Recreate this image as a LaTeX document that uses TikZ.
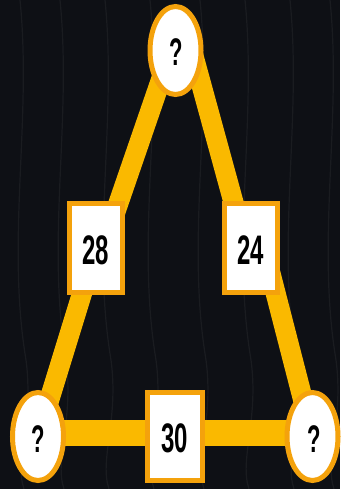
\documentclass[tikz,border=0pt]{standalone}
\usepackage{fontspec}
\setmainfont{Liberation Sans}
\usepackage{graphicx}
\usetikzlibrary{shapes.geometric,backgrounds}
\definecolor{bgdark}{HTML}{0E1015}
\definecolor{legyellow}{HTML}{FAB900}
\definecolor{rimorange}{HTML}{F4A20C}
\newcommand{\tallnum}[1]{\scalebox{1}[1.72]{\fontsize{24}{24}\selectfont\bfseries #1}}
\newcommand{\tallq}{\scalebox{1}[1.75]{\fontsize{22}{22}\selectfont\bfseries ?}}
\begin{document}
\begin{tikzpicture}[x=1pt,y=-1pt,
  leg/.style={draw=legyellow,line width=20pt},
  bar/.style={draw=legyellow,line width=26pt},
  numbox/.style={draw=rimorange,fill=white,line width=5pt,minimum width=53pt,minimum height=89pt,inner sep=0pt,text=black},
  qoval/.style={ellipse,draw=rimorange,fill=white,line width=5pt,minimum width=51pt,minimum height=88pt,inner sep=0pt,text=black}]
\useasboundingbox (0,0) rectangle (340,489);
% nodes
\node[qoval] (top) at (175.5,50.5) {};
\node[qoval] (bl) at (38,436.5) {};
\node[qoval] (br) at (312.5,436.5) {};
\node[numbox] (b28) at (96,248) {};
\node[numbox] (b24) at (250.5,248) {};
\node[numbox,minimum width=55pt,minimum height=88pt] (b30) at (175,436.5) {};
% texts
\node[text=black,inner sep=0pt] (tq) at (176.5,52.5) {\tallq};
\node[text=black,inner sep=0pt] (lq) at (38,439) {\tallq};
\node[text=black,inner sep=0pt] (rq) at (314,439) {\tallq};
\node[text=black,inner sep=0pt] (t28) at (96,250) {\tallnum{28}};
\node[text=black,inner sep=0pt] (t24) at (250.5,250) {\tallnum{24}};
\node[text=black,inner sep=0pt] (t30) at (175,438) {\tallnum{30}};
% background and connectors
\begin{scope}[on background layer]
\fill[bgdark] (0,0) rectangle (340,489);
\begin{scope}[draw=white,opacity=0.05,line width=1.2pt]
\foreach \x in {20,60,105,150,200,245,290,330}{
  \draw (\x,0) .. controls (\x+12,120) and (\x-14,240) .. (\x+6,360) .. controls (\x+14,420) and (\x-6,460) .. (\x+4,489);
}
\end{scope}
\path[leg] ([xshift=-4.5pt]top.center) -- ([xshift=7pt]b28.center);
\path[leg] ([xshift=16.5pt]top.center) -- ([xshift=-4.5pt]b24.center);
\path[leg] (b28.center) -- (bl.center);
\path[leg] ([xshift=13.5pt]b24.center) -- (br.center);
\path[bar] ([yshift=3.5pt]bl.center) -- ([yshift=3.5pt]br.center);
\end{scope}
\end{tikzpicture}
\end{document}
